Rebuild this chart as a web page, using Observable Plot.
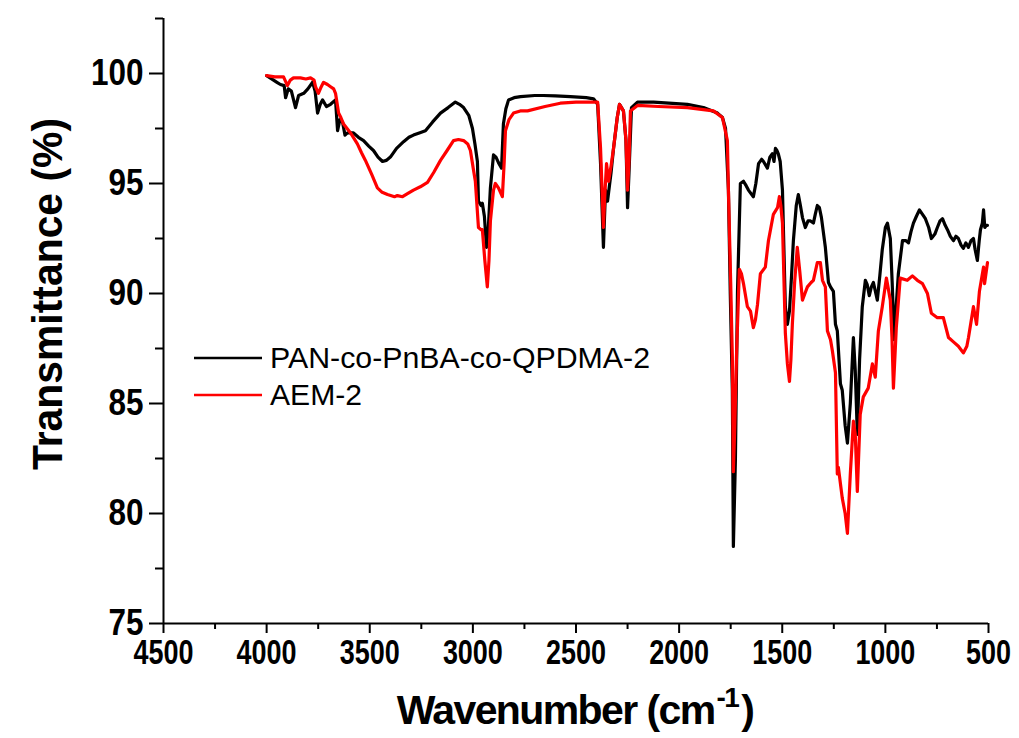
<!DOCTYPE html>
<html><head><meta charset="utf-8">
<script src="https://cdn.jsdelivr.net/npm/d3@7"></script>
<script src="https://cdn.jsdelivr.net/npm/@observablehq/plot@0.6"></script>
<style>
body{margin:0;background:#fff}
svg{font-family:"Liberation Sans",Arial,sans-serif}
</style>
</head><body><div id="chart"></div>
<script>
// ---- Data ----
const seriesNames = ["PAN-co-PnBA-co-QPDMA-2", "AEM-2"];
const seriesColors = ["#000000", "#ff0000"];

const blackWn = [4000,3950,3933,3915,3908,3895,3880,3860,3845,3820,3800,3777,3765,3753,3740,3729,3710,3690,3666,3656,3645,3632,3620,3608,3579,3555,3530,3505,3482,3460,3438,3420,3400,3370,3336,3310,3288,3260,3230,3195,3157,3120,3085,3065,3045,3020,3002,2990,2978,2973,2960,2954,2944,2934,2925,2915,2900,2888,2876,2861,2852,2840,2827,2800,2769,2700,2658,2600,2527,2450,2415,2395,2381,2367,2357,2347,2330,2318,2300,2289,2270,2258,2250,2243,2231,2202,2150,2124,2050,1960,1882,1814,1790,1775,1761,1752,1742,1737,1727,1717,1703,1688,1675,1664,1640,1628,1615,1600,1591,1572,1560,1548,1540,1533,1526,1519,1510,1499,1485,1475,1465,1455,1446,1432,1422,1412,1402,1388,1375,1363,1349,1340,1330,1320,1310,1291,1276,1266,1252,1242,1233,1218,1209,1195,1184,1170,1155,1146,1136,1125,1112,1097,1088,1078,1068,1058,1039,1027,1015,1000,990,976,967,957,947,937,917,900,888,876,864,850,835,820,806,790,777,760,748,735,723,710,699,685,670,658,646,633,622,610,597,585,573,565,554,545,539,530,524,518,510,505];
const blackT = [99.9,99.6,99.5,99.45,98.9,99.3,99.2,98.45,99.0,99.1,99.3,99.6,99.2,98.2,98.6,98.8,98.5,98.6,98.8,97.4,97.9,97.8,97.2,97.3,97.3,97.1,96.95,96.7,96.5,96.2,96.0,96.05,96.2,96.6,96.9,97.1,97.2,97.3,97.4,97.8,98.2,98.45,98.7,98.6,98.45,98.1,97.5,96.8,96.0,94.2,94.0,94.1,93.5,92.1,93.0,94.8,96.3,96.2,95.95,95.7,97.7,98.4,98.8,98.9,98.95,99.0,99.0,98.98,98.95,98.9,98.85,98.6,95.9,92.1,94.7,94.2,95.5,96.6,98.0,98.6,98.3,97.0,93.9,95.5,98.45,98.7,98.7,98.7,98.65,98.6,98.45,98.2,98.0,97.5,94.7,90.0,85.6,78.5,82.5,90.1,95.0,95.1,94.9,94.7,94.4,95.0,95.9,96.1,96.0,95.7,96.2,96.35,96.0,96.6,96.5,96.35,96.0,94.7,89.4,88.6,89.2,90.8,92.4,94.0,94.5,94.0,93.45,93.0,93.3,93.3,93.2,93.6,94.0,93.9,93.45,92.1,90.5,90.3,90.1,88.6,88.3,85.9,85.6,84.0,83.2,85.0,88.0,86.5,83.6,87.0,89.4,90.6,90.4,89.9,90.3,90.5,89.7,90.8,92.0,93.0,93.2,92.5,90.5,87.9,89.5,90.9,92.4,92.4,92.3,92.8,93.2,93.5,93.8,93.6,93.4,93.0,92.5,92.7,93.0,93.3,93.4,93.1,92.9,92.6,92.4,92.6,92.5,92.2,92.05,92.3,92.1,92.4,92.5,92.0,91.5,92.4,92.9,93.2,93.8,93.0,93.1,93.1];

const redWn = [4000,3960,3918,3899,3885,3870,3836,3810,3787,3770,3763,3749,3735,3724,3705,3690,3675,3666,3651,3640,3627,3593,3560,3540,3521,3490,3463,3440,3414,3380,3366,3341,3315,3288,3255,3220,3190,3157,3125,3094,3070,3045,3025,3012,2995,2988,2973,2960,2954,2942,2930,2922,2915,2900,2891,2876,2857,2848,2842,2825,2803,2770,2735,2650,2576,2500,2395,2381,2367,2360,2352,2342,2330,2318,2300,2289,2270,2258,2250,2243,2236,2202,2100,1960,1834,1790,1766,1761,1750,1742,1737,1730,1722,1708,1698,1688,1669,1654,1640,1630,1620,1606,1582,1567,1543,1523,1514,1507,1499,1490,1485,1475,1465,1458,1451,1440,1427,1415,1402,1390,1378,1360,1349,1330,1315,1305,1291,1281,1266,1257,1242,1233,1228,1209,1195,1184,1170,1155,1146,1136,1122,1107,1083,1063,1049,1034,1015,995,976,968,961,947,928,894,869,845,820,796,777,748,719,694,670,646,622,605,597,573,558,544,524,519,505];
const redT = [99.9,99.85,99.85,99.45,99.7,99.8,99.8,99.75,99.8,99.7,99.4,99.1,99.4,99.6,99.5,99.4,99.3,99.1,98.2,98.0,97.7,97.3,96.8,96.4,96.05,95.4,94.8,94.6,94.5,94.4,94.45,94.4,94.55,94.7,94.85,95.05,95.5,96.05,96.5,96.95,97.0,96.95,96.8,96.5,95.5,95.1,93.0,92.9,92.9,91.5,90.3,91.5,93.3,94.7,95.0,94.8,94.4,96.0,97.4,97.9,98.2,98.3,98.3,98.5,98.65,98.7,98.7,96.6,93.0,94.5,95.9,95.1,95.8,96.6,98.0,98.6,98.3,97.0,94.7,96.0,98.3,98.55,98.5,98.45,98.3,98.0,96.95,94.7,90.5,87.1,81.9,84.0,87.1,91.1,90.9,90.45,89.4,89.2,88.45,88.8,89.5,90.9,91.2,92.4,93.6,93.9,94.4,94.0,93.2,90.0,88.2,86.8,86.0,87.0,88.6,90.5,92.1,91.0,89.7,90.0,90.3,90.5,90.6,91.4,91.4,90.6,90.3,88.3,87.9,87.4,86.4,81.8,82.1,80.7,80.0,79.1,81.8,84.2,83.6,81.0,84.5,85.3,85.7,86.8,86.2,88.3,89.4,90.7,89.7,88.0,85.7,88.45,90.7,90.6,90.8,90.6,90.45,90.0,89.1,88.9,88.9,88.0,87.8,87.6,87.3,87.6,88.0,89.4,88.6,90.1,91.2,90.45,91.4];

const xMajorTicks = [4500,4000,3500,3000,2500,2000,1500,1000,500];
const xMinorTicks = [4250,3750,3250,2750,2250,1750,1250,750];
const yMajorTicks = [75,80,85,90,95,100];
const yMinorTicks = [77.5,82.5,87.5,92.5,97.5,102.5];

// ---- Build tables ----
const black = blackWn.map((w, i) => ({wn: w, t: blackT[i], s: seriesNames[0]}));
const red = redWn.map((w, i) => ({wn: w, t: redT[i], s: seriesNames[1]}));

const FONT = '"Liberation Sans",Arial,sans-serif';

const plot = Plot.plot({
  width: 1019,
  height: 738,
  marginLeft: 163,
  marginRight: 31,
  marginTop: 18,
  marginBottom: 115,
  style: {background: "white", fontFamily: FONT, overflow: "visible"},
  x: {domain: [4500, 500], label: null},
  y: {domain: [75, 102.5], label: null},
  marks: [
    Plot.axisX({ticks: xMinorTicks, tickSize: 6, strokeWidth: 2, tickFormat: () => ""}),
    Plot.axisX({ticks: xMajorTicks, tickSize: 10, tickPadding: 6, strokeWidth: 2,
      fontSize: 35, fontWeight: "bold", fill: "black", tickFormat: d => String(d)}),
    Plot.axisY({ticks: yMinorTicks, tickSize: 8, strokeWidth: 2, tickFormat: () => ""}),
    Plot.axisY({ticks: yMajorTicks, tickSize: 14, tickPadding: 6, strokeWidth: 2,
      fontSize: 36, fontWeight: "bold", fill: "black", tickFormat: d => String(d)}),
    Plot.ruleY([75], {strokeWidth: 2}),
    Plot.ruleX([4500], {strokeWidth: 2}),
    Plot.line(black, {x: "wn", y: "t", stroke: seriesColors[0], strokeWidth: 3.2}),
    Plot.line(red, {x: "wn", y: "t", stroke: seriesColors[1], strokeWidth: 3.2})
  ]
});

document.getElementById("chart").appendChild(plot);
const svg = d3.select(plot);

// condensed tick labels like the reference
svg.selectAll("g[aria-label='x-axis tick label'] text").each(function() {
  const t = this.textContent;
  if (!t) return;
  d3.select(this).attr("textLength", t.length * 15).attr("lengthAdjust", "spacingAndGlyphs");
});
svg.selectAll("g[aria-label='y-axis tick label'] text").each(function() {
  const t = this.textContent;
  if (!t) return;
  d3.select(this).attr("textLength", t.length * 17.5).attr("lengthAdjust", "spacingAndGlyphs");
});

// Axis titles
svg.append("text")
  .attr("transform", "translate(62,294) rotate(-90)")
  .attr("text-anchor", "middle")
  .attr("font-size", 42).attr("font-weight", "bold").attr("font-family", FONT)
  .attr("textLength", 352).attr("lengthAdjust", "spacingAndGlyphs")
  .text("Transmittance (%)");

const xt = svg.append("text")
  .attr("x", 575).attr("y", 724)
  .attr("text-anchor", "middle")
  .attr("font-size", 41).attr("font-weight", "bold").attr("font-family", FONT)
  .attr("letter-spacing", "-1.6");
xt.append("tspan").text("Wavenumber (cm");
xt.append("tspan").attr("font-size", 28).attr("dy", -17).attr("dx", 2).text("-1");
xt.append("tspan").attr("dy", 17).attr("dx", 3).text(")");

// Legend
const leg = svg.append("g").attr("font-family", FONT).attr("text-anchor", "start");
seriesNames.forEach((name, i) => {
  const y = 358 + i * 37;
  leg.append("line").attr("x1", 194).attr("x2", 262).attr("y1", y).attr("y2", y)
    .attr("stroke", seriesColors[i]).attr("stroke-width", 2.6);
  leg.append("text").attr("x", 270).attr("y", y + 10).attr("font-size", 29)
    .attr("text-anchor", "start")
    .attr("textLength", i === 0 ? 380 : 92).attr("lengthAdjust", "spacingAndGlyphs")
    .text(name);
});
</script>
</body></html>
